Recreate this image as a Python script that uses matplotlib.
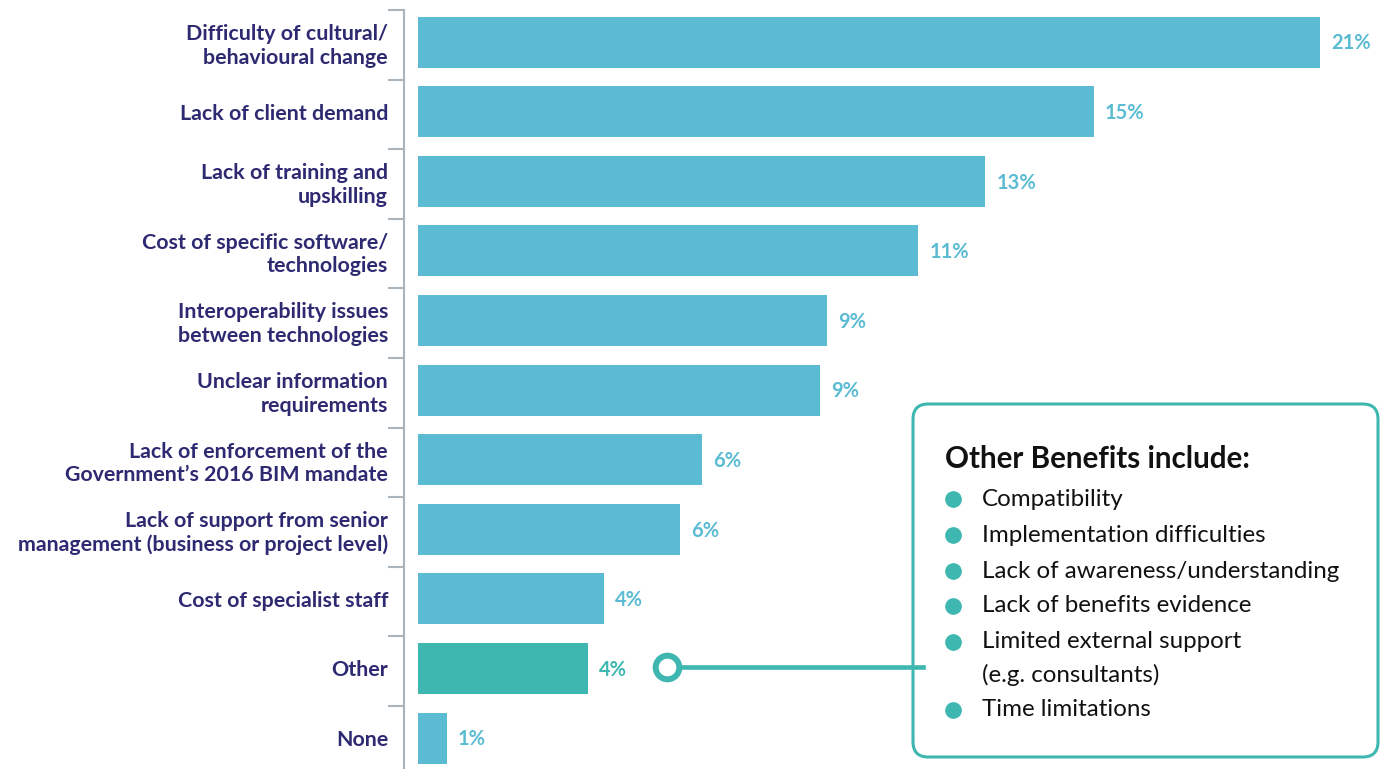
import matplotlib
matplotlib.use("Agg")
import matplotlib.pyplot as plt
from matplotlib.patches import FancyBboxPatch
from matplotlib.lines import Line2D

categories = [
    "Difficulty of cultural/\nbehavioural change",
    "Lack of client demand",
    "Lack of training and\nupskilling",
    "Cost of specific software/\ntechnologies",
    "Interoperability issues\nbetween technologies",
    "Unclear information\nrequirements",
    "Lack of enforcement of the\nGovernment\u2019s 2016 BIM mandate",
    "Lack of support from senior\nmanagement (business or project level)",
    "Cost of specialist staff",
    "Other",
    "None",
]
values = [20.98, 15.72, 13.19, 11.63, 9.51, 9.35, 6.60, 6.09, 4.33, 3.95, 0.67]
value_labels = ["21%", "15%", "13%", "11%", "9%", "9%", "6%", "6%", "4%", "4%", "1%"]
highlight = "Other"

box_title = "Other Benefits include:"
box_items = [
    "Compatibility",
    "Implementation difficulties",
    "Lack of awareness/understanding",
    "Lack of benefits evidence",
    "Limited external support\n(e.g. consultants)",
    "Time limitations",
]

BLUE = "#5BBBD2"
TEAL = "#3DB7B0"
NAVY = "#2E2A72"
GREY = "#A9B4BD"

plt.rcParams["font.family"] = ["Lato", "DejaVu Sans"]

W, H = 1386, 769
fig = plt.figure(figsize=(W / 100, H / 100), dpi=100)

def fx(px):
    return px / W

def fy(py):
    return 1 - py / H

# axes: spine at x=404, top at y=10, bottom at y=769
ax = fig.add_axes([fx(404), 0, fx(1386) - fx(404), fy(10)])
scale = 43.0  # px per unit
row = 69.6
top = -0.46

ypos = list(range(len(categories)))
colors = [TEAL if c == highlight else BLUE for c in categories]
ax.barh(ypos, values, height=0.733, color=colors, zorder=2)

for y, v, lab, c in zip(ypos, values, value_labels, colors):
    ax.annotate(lab, xy=(v, y), xytext=(8, -1), textcoords="offset points",
                va="center", ha="left", fontsize=14.5, fontweight="bold", color=c)

ax.set_yticks(ypos)
ax.set_yticklabels(categories, fontsize=15.4, fontweight="bold", color=NAVY,
                   ha="right", linespacing=1.22)
ax.tick_params(axis="y", which="major", length=0, pad=11.5)
ax.set_yticks([i + top for i in range(len(categories))], minor=True)
ax.tick_params(axis="y", which="minor", length=11.5, width=1.5, color=GREY, direction="out")
ax.set_xticks([])
ax.set_xlim(-14 / scale, (1386 - 418) / scale)
ax.set_ylim(top + 759 / row, top)
for s in ["top", "right", "bottom"]:
    ax.spines[s].set_visible(False)
ax.spines["left"].set_color(GREY)
ax.spines["left"].set_linewidth(1.5)
ax.patch.set_alpha(0)

# connector line and circle
fig.add_artist(Line2D([fx(676), fx(923)], [fy(667), fy(667)], transform=fig.transFigure,
                      color=TEAL, lw=3.3, zorder=5))
fig.add_artist(Line2D([fx(666.5)], [fy(667)], transform=fig.transFigure, marker="o",
                      markersize=17, markerfacecolor="white", markeredgecolor=TEAL,
                      markeredgewidth=4.3, zorder=6))

# box
box = FancyBboxPatch((fx(913), fy(757)), fx(1378) - fx(913), fy(404) - fy(757),
                     boxstyle="round,pad=0,rounding_size=0.011",
                     transform=fig.transFigure, facecolor="white", edgecolor=TEAL,
                     linewidth=2.2, zorder=4, mutation_aspect=W / H)
fig.add_artist(box)

fig.text(fx(945), fy(459), box_title, fontsize=21.3, fontweight="bold", color="#111111",
         va="center", ha="left", zorder=7)

item_y = [499, 535, 571, 606, 642, 710]
for y, item in zip(item_y, box_items):
    fig.add_artist(Line2D([fx(953)], [fy(y)], transform=fig.transFigure, marker="o",
                          markersize=11, markerfacecolor=TEAL, markeredgecolor=TEAL, zorder=7))
    for k, line in enumerate(item.split("\n")):
        fig.text(fx(982), fy(y + 33 * k), line, fontsize=17.4, color="#111111",
                 va="center", ha="left", zorder=7)

fig.savefig("out.png", dpi=100)
